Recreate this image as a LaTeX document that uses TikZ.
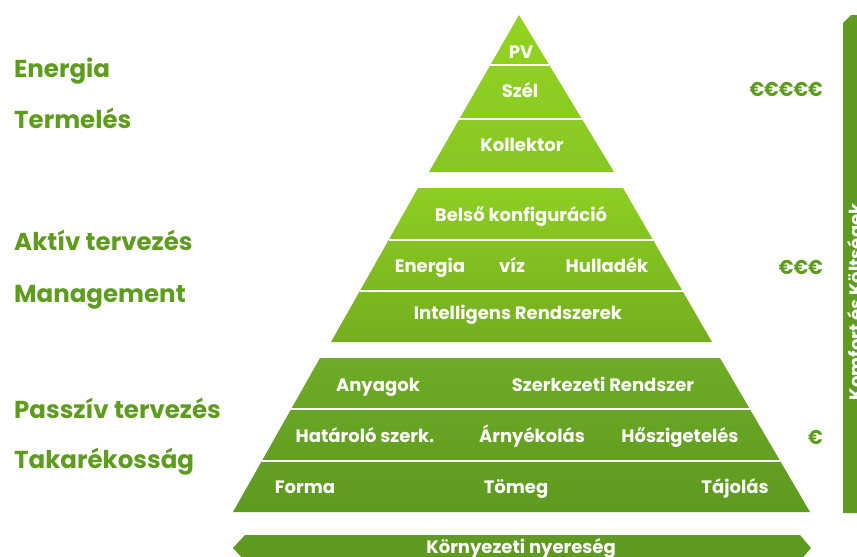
\documentclass[tikz,border=0pt]{standalone}
\usepackage{fontspec}
\setmainfont{Poppins}
\usetikzlibrary{calc}
\definecolor{lbl}{HTML}{5E9C1E}
\definecolor{bardark}{HTML}{5F9B21}
\definecolor{topA}{HTML}{92D420}
\definecolor{topB}{HTML}{88C724}
\definecolor{midA}{HTML}{8DCE22}
\definecolor{midB}{HTML}{74AE20}
\definecolor{botA}{HTML}{6EAB25}
\definecolor{botB}{HTML}{5D9A20}
\tikzset{
  lbltxt/.style={anchor=base west, text=lbl, font=\fontsize{24.5}{25}\selectfont\bfseries, inner sep=0pt},
  ptxt/.style={anchor=base, text=white, font=\fontsize{18}{18}\selectfont\bfseries, inner sep=0pt},
  eurotxt/.style={anchor=base east, text=lbl, font=\fontsize{20}{20}\selectfont\bfseries, inner sep=0pt, xscale=0.92},
  sepline/.style={white, line width=1.2pt},
}
\begin{document}
\begin{tikzpicture}[x=1pt,y=-1pt]
\useasboundingbox (0,0) rectangle (857,557);
\clip (0,0) rectangle (857,557);
\fill[white] (0,0) rectangle (857,557);

% top triangle
\coordinate (ta) at (519,15);
\coordinate (tl) at (429,172);
\coordinate (tr) at (614,172);
\shade[top color=topA, bottom color=topB] (ta) -- (tr) -- (tl) -- cycle;
\draw[sepline] ($(ta)!0.318!(tl)$) -- ($(ta)!0.318!(tr)$);
\draw[sepline] ($(ta)!0.662!(tl)$) -- ($(ta)!0.662!(tr)$);

% middle trapezoid
\coordinate (m1) at (418,188);
\coordinate (m2) at (623,188);
\coordinate (m3) at (712,342);
\coordinate (m4) at (331,342);
\shade[top color=midA, bottom color=midB] (m1) -- (m2) -- (m3) -- (m4) -- cycle;
\draw[sepline] ($(m1)!0.338!(m4)$) -- ($(m2)!0.338!(m3)$);
\draw[sepline] ($(m1)!0.669!(m4)$) -- ($(m2)!0.669!(m3)$);

% bottom trapezoid
\coordinate (b1) at (320,358);
\coordinate (b2) at (720,358);
\coordinate (b3) at (810,512);
\coordinate (b4) at (233,512);
\shade[top color=botA, bottom color=botB] (b1) -- (b2) -- (b3) -- (b4) -- cycle;
\draw[sepline] ($(b1)!0.331!(b4)$) -- ($(b2)!0.331!(b3)$);
\draw[sepline] ($(b1)!0.669!(b4)$) -- ($(b2)!0.669!(b3)$);

% bottom double arrow
\fill[bardark] (245,535) -- (800,535) -- (811,548) -- (800,561) -- (245,561) -- (233,548) -- cycle;
% right bar
\fill[bardark] (851,15) -- (880,15) -- (880,513) -- (843,513) -- (843,23) -- cycle;

% pyramid texts
\node[ptxt] (pv) at (521,58) {PV};
\node[ptxt] (szel) at (520,97) {Szél};
\node[ptxt] (koll) at (522,151) {Kollektor};
\node[ptxt] (belso) at (521,221) {Belső konfiguráció};
\node[ptxt] (energia) at (430,272) {Energia};
\node[ptxt] (viz) at (512,272) {víz};
\node[ptxt] (hull) at (607,272) {Hulladék};
\node[ptxt] (intel) at (518,319) {Intelligens Rendszerek};
\node[ptxt] (anyag) at (378,391) {Anyagok};
\node[ptxt] (szerk) at (603,391) {Szerkezeti Rendszer};
\node[ptxt] (hatar) at (365,442) {Határoló szerk.};
\node[ptxt] (arny) at (532,442) {Árnyékolás};
\node[ptxt] (hosz) at (680,442) {Hőszigetelés};
\node[ptxt] (forma) at (305,493) {Forma};
\node[ptxt] (tomeg) at (516,493) {Tömeg};
\node[ptxt] (tajol) at (735,493) {Tájolás};
\node[ptxt] (korny) at (521,553) {Környezeti nyereség};
\node[ptxt, rotate=90, anchor=base] (komf) at (862,302) {Komfort és Költségek};

% left labels
\node[lbltxt] (l1) at (14,77) {Energia};
\node[lbltxt] (l2) at (14,128) {Termelés};
\node[lbltxt] (l3) at (14,250) {Aktív tervezés};
\node[lbltxt] (l4) at (14,302) {Management};
\node[lbltxt] (l5) at (14,418) {Passzív tervezés};
\node[lbltxt] (l6) at (14,468) {Takarékosság};

% euro
\node[eurotxt] (e5) at (823,96) {€€€€€};
\node[eurotxt] (e3) at (823,274) {€€€};
\node[eurotxt] (e1) at (823,444) {€};
\end{tikzpicture}
\end{document}
